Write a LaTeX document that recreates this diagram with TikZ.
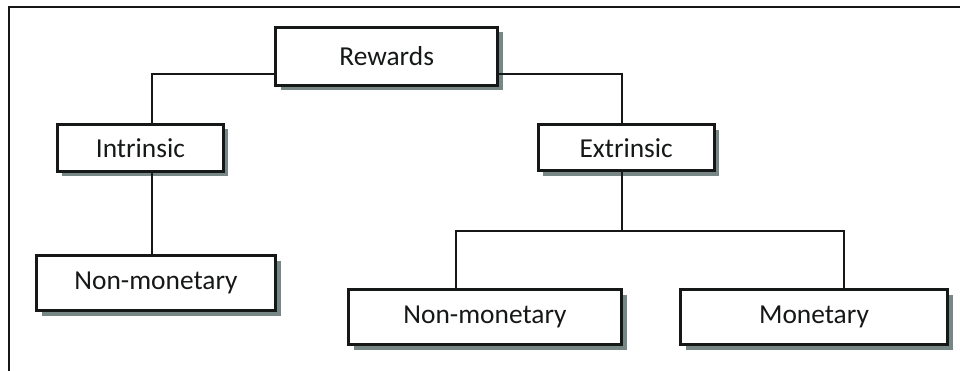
\documentclass[tikz,border=0pt]{standalone}
\usepackage{fontspec}
\setmainfont{Carlito}
\usetikzlibrary{shadows}
\definecolor{shadowgray}{RGB}{118,135,134}
\definecolor{inkc}{RGB}{22,24,24}
\begin{document}
\begin{tikzpicture}[x=1pt,y=-1pt,
  box/.style={draw=inkc, line width=3pt, fill=white, inner sep=0pt,
    font=\fontsize{27.4}{30}\selectfont, text=inkc,
    drop shadow={shadow xshift=5pt, shadow yshift=-5pt, fill=shadowgray, opacity=1}},
  conn/.style={draw=inkc, line width=2pt}]
\useasboundingbox (0,0) rectangle (960,371);
\fill[white] (0,0) rectangle (960,371);
% frame
\coordinate (ftr) at (960,7.5);
\coordinate (ftl) at (8.5,7.5);
\coordinate (fbl) at (8.5,371);
\draw[inkc, line width=2pt] (ftr) -- (ftl) -- (fbl);
% nodes
\node[box, minimum width=222pt, minimum height=58pt] (rew) at (386.7,56.3) {Rewards};
\node[box, minimum width=166pt, minimum height=47pt] (intr) at (140.4,147.9) {Intrinsic};
\node[box, minimum width=176pt, minimum height=46pt] (extr) at (626.2,148) {Extrinsic};
\node[box, minimum width=239pt, minimum height=55pt] (nml) at (156,283) {Non-monetary};
\node[box, minimum width=273pt, minimum height=55pt] (nmr) at (485,317.3) {Non-monetary};
\node[box, minimum width=267pt, minimum height=55pt] (mon) at (814,317.3) {Monetary};
% junctions
\coordinate (j1) at (151.7,74);
\coordinate (j2) at (622,74);
\coordinate (j3) at (622,230.7);
\coordinate (jl) at (456,230.7);
\coordinate (jr) at (844,230.7);
% connectors
\begin{scope}[on background layer/.try]
\end{scope}
\draw[conn] (rew.west |- j1) -- (j1) -- (j1 |- intr.north);
\draw[conn] (rew.east |- j2) -- (j2) -- (j2 |- extr.north);
\draw[conn] (j1 |- intr.south) -- (j1 |- nml.north);
\draw[conn] (j2 |- extr.south) -- (j3);
\draw[conn] (jl |- nmr.north) -- (jl) -- (jr) -- (jr |- mon.north);
\end{tikzpicture}
\end{document}
